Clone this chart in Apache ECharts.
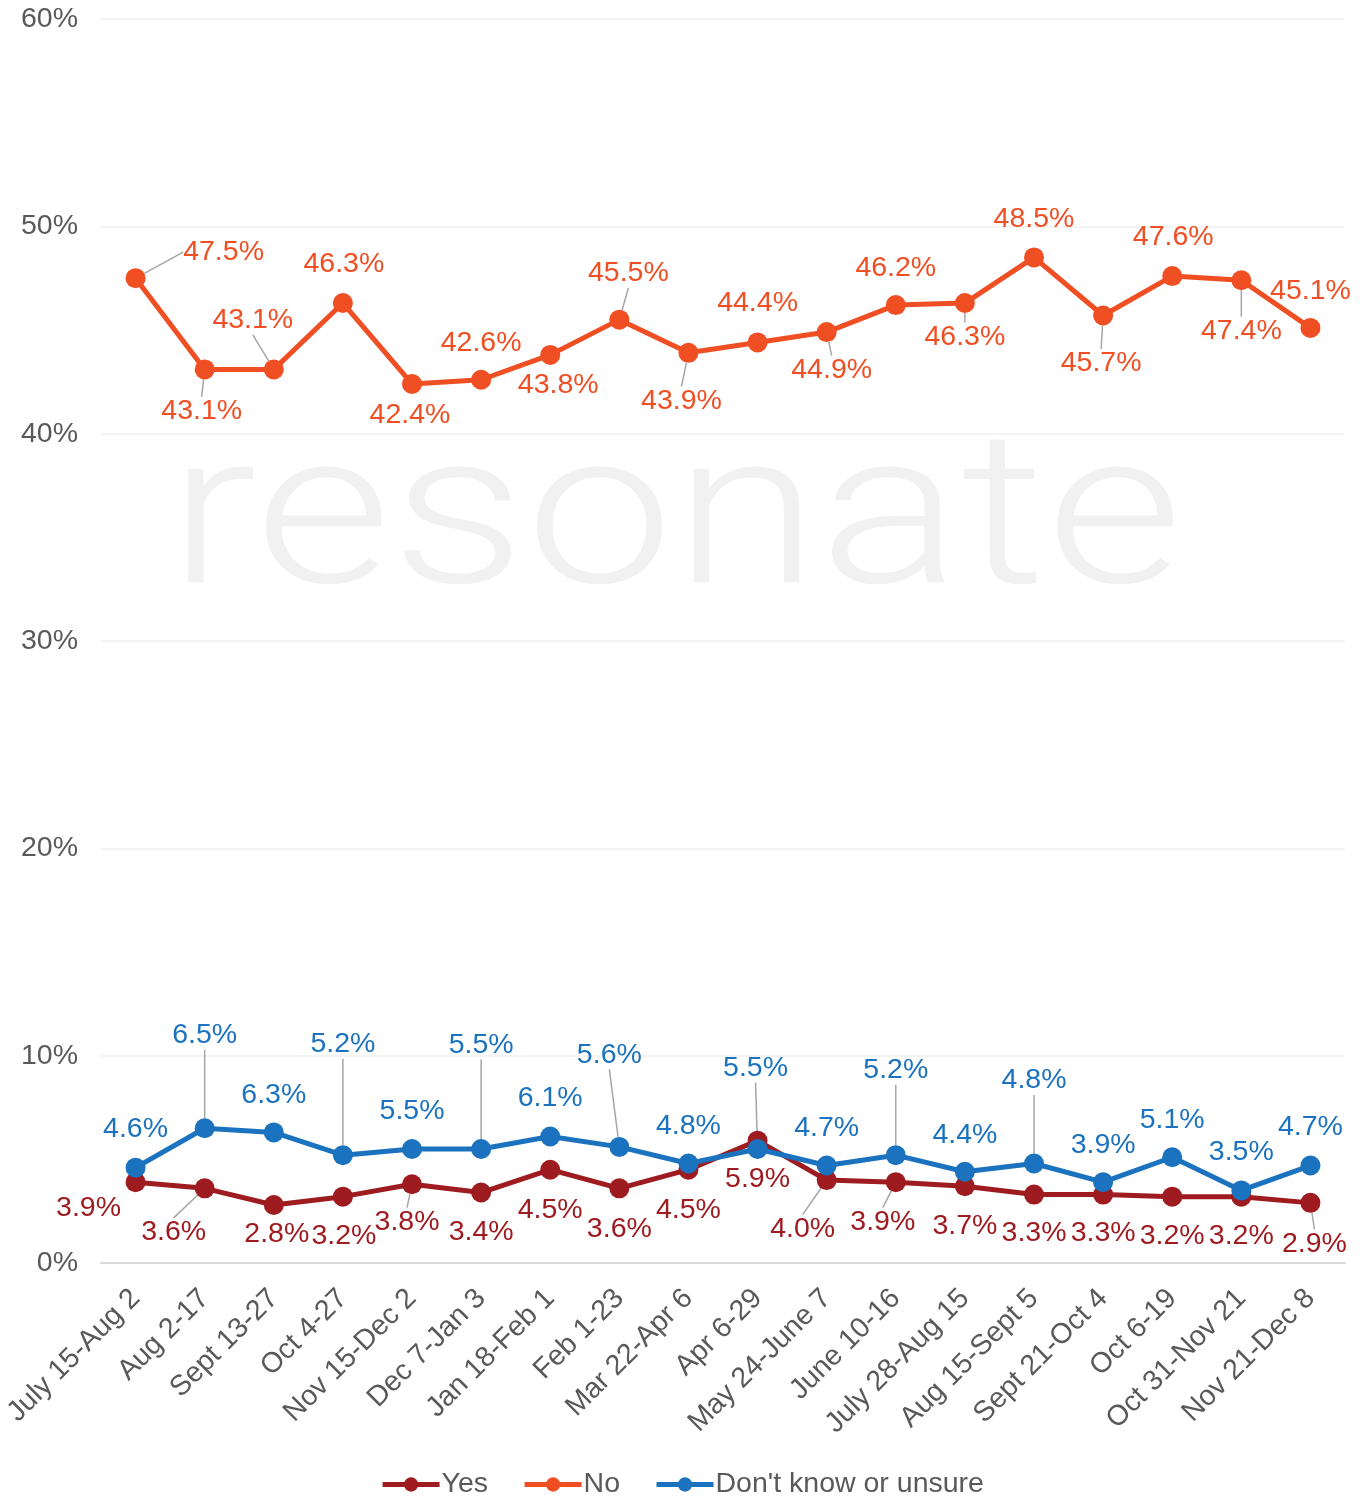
<!DOCTYPE html>
<html>
<head>
<meta charset="utf-8">
<script src="https://cdn.jsdelivr.net/npm/echarts@6/dist/echarts.min.js"></script>
<style>
html,body{margin:0;padding:0;background:#fff;}
#chart{width:1364px;height:1496px;}
</style>
</head>
<body>
<div id="chart"></div>
<script>
// ---- data ----
const categories = ["July 15-Aug 2","Aug 2-17","Sept 13-27","Oct 4-27","Nov 15-Dec 2","Dec 7-Jan 3","Jan 18-Feb 1","Feb 1-23","Mar 22-Apr 6","Apr 6-29","May 24-June 7","June 10-16","July 28-Aug 15","Aug 15-Sept 5","Sept 21-Oct 4","Oct 6-19","Oct 31-Nov 21","Nov 21-Dec 8"];
const yesValues = [3.9,3.6,2.8,3.2,3.8,3.4,4.5,3.6,4.5,5.9,4.0,3.9,3.7,3.3,3.3,3.2,3.2,2.9];
const noValues = [47.5,43.1,43.1,46.3,42.4,42.6,43.8,45.5,43.9,44.4,44.9,46.2,46.3,48.5,45.7,47.6,47.4,45.1];
const unsureValues = [4.6,6.5,6.3,5.2,5.5,5.5,6.1,5.6,4.8,5.5,4.7,5.2,4.4,4.8,3.9,5.1,3.5,4.7];
const yTicks = [0,10,20,30,40,50,60];

// ---- label placement (style only) ----
const noLabelOffsets = [[88,-26],[-3,42],[-21,-49],[1,-39],[-2,31],[0,-37],[8,30],[9,-46],[-7,48],[0,-39],[5,38],[0,-37],[0,34],[0,-38],[-2,48],[1,-39],[0,51],[0,-37]];
const noLeaders = [0,1,2,7,8,10,12,14,16];
const unsureLabelOffsets = [[0,-38],[0,-93],[0,-37],[0,-111],[0,-38],[0,-104],[0,-38],[-10,-92],[0,-37],[-2,-81],[0,-37],[0,-85],[0,-37],[0,-83],[0,-37],[0,-37],[0,-38],[0,-38]];
const unsureLeaders = [1,3,5,7,9,11,13];
const yesLabelOffsets = [[-47,26],[-31,44],[3,29],[1,39],[-5,38],[0,40],[0,40],[0,41],[0,40],[0,38],[-24,49],[-13,40],[0,40],[0,39],[0,39],[0,39],[0,39],[4,41]];
const yesLeaders = [1,4,10,11,17];

const FONT = '"Liberation Sans", Arial, sans-serif';
const COLORS = {yes:'#9E1B20', no:'#F04E23', unsure:'#1B72BE'};

function buildSeries(name, values, color, offsets, leaders){
  return {
    name: name,
    type: 'line',
    data: values.map((v,i)=>({value:v, labelLine:{show: leaders.indexOf(i) >= 0}})),
    symbol: 'circle',
    symbolSize: 20,
    lineStyle: {width: 5, color: color},
    itemStyle: {color: color},
    label: {
      show: true,
      position: 'inside',
      formatter: p => p.value.toFixed(1) + '%',
      color: color,
      fontSize: 28.5,
      fontFamily: FONT
    },
    labelLine: {show: false, lineStyle: {color: '#A6A6A6', width: 1.5}},
    labelLayout: function(params){
      const o = offsets[params.dataIndex];
      return {dx: o[0], dy: o[1]};
    },
    emphasis: {disabled: true},
    animation: false
  };
}

const chart = echarts.init(document.getElementById('chart'), null, {renderer:'canvas'});
chart.setOption({
  backgroundColor: '#ffffff',
  animation: false,
  graphic: [{
    type: 'text',
    left: 168,
    top: 421,
    z: -10,
    silent: true,
    scaleX: 1.23,
    style: {
      text: 'resonate',
      font: '300 215px Roboto, "Liberation Sans", sans-serif',
      fill: '#F1F1F1'
    }
  }],
  grid: {left: 100, right: 19, top: 19, bottom: 233, containLabel: false},
  legend: {
    top: 1465,
    left: 'center',
    itemWidth: 57,
    itemHeight: 18,
    itemGap: 34,
    lineStyle: {width: 5},
    textStyle: {fontSize: 28.5, color: '#595959', fontFamily: FONT, padding: [0,0,0,-3]},
    data: ['Yes','No',"Don't know or unsure"]
  },
  xAxis: {
    type: 'category',
    data: categories,
    boundaryGap: true,
    axisTick: {show: false},
    axisLine: {show: true, lineStyle: {color: '#D9D9D9', width: 2}},
    axisLabel: {rotate: 45, interval: 0, margin: 31, fontSize: 28.5, color: '#595959', fontFamily: FONT}
  },
  yAxis: {
    type: 'value',
    min: yTicks[0],
    max: yTicks[yTicks.length-1],
    interval: 10,
    axisLine: {show: false},
    axisTick: {show: false},
    splitLine: {lineStyle: {color: '#F0F0F0', width: 1.5}},
    axisLabel: {margin: 23, fontSize: 28.5, color: '#595959', fontFamily: FONT, formatter: '{value}%'}
  },
  series: [
    buildSeries('Yes', yesValues, COLORS.yes, yesLabelOffsets, yesLeaders),
    buildSeries('No', noValues, COLORS.no, noLabelOffsets, noLeaders),
    buildSeries("Don't know or unsure", unsureValues, COLORS.unsure, unsureLabelOffsets, unsureLeaders)
  ]
});
</script>
</body>
</html>
